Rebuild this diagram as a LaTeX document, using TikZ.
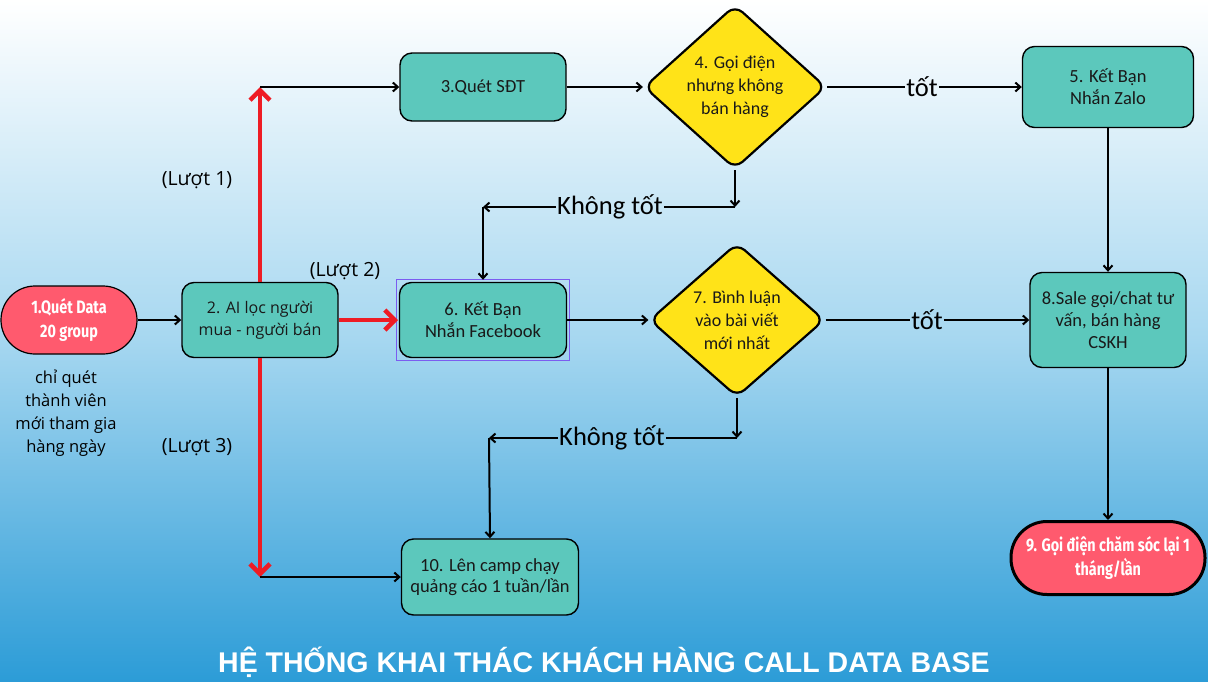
\documentclass[tikz,border=0pt]{standalone}
\usepackage{fontspec}
\setmainfont{Carlito}
\newfontfamily\geofont{Open Sans}
\newfontfamily\condfont[FakeStretch=0.8]{Fira Sans}
\newfontfamily\titlefont{Liberation Sans}
\usetikzlibrary{arrows.meta,shapes.geometric}
\definecolor{tealn}{HTML}{5CC8BC}
\definecolor{yeln}{HTML}{FFE318}
\definecolor{redn}{HTML}{FF5A6E}
\definecolor{reda}{HTML}{EE1C24}
\definecolor{bgmid}{HTML}{A6D7F0}
\definecolor{bgbot}{HTML}{2C9CD7}
\definecolor{selp}{HTML}{7B5CF0}
\tikzset{
  box/.style={draw=black, line width=1.4pt, fill=tealn, rounded corners=12pt, align=center,
    font=\fontsize{18.5}{22}\selectfont, inner sep=2pt, text=black!90},
  dia/.style={diamond, draw=black, line width=2.2pt, fill=yeln, rounded corners=10pt, align=center,
    inner sep=0pt, aspect=1, font=\fontsize{18}{23}\selectfont, text=black!90},
  term/.style={draw=black, fill=redn, align=center, text=white,
    font=\condfont\bfseries\fontsize{18}{24}\selectfont, inner sep=2pt},
  blk/.style={draw=black, line width=2pt, -{Straight Barb[length=5pt,width=9pt]}},
  blkline/.style={draw=black, line width=2pt},
  redarrow/.style={draw=reda, line width=4.5pt, -{Straight Barb[length=10pt,width=20pt]}},
  lbl/.style={font=\fontsize{26.5}{26.5}\selectfont, inner sep=1pt},
  note/.style={font=\geofont\fontsize{19.5}{19.5}\selectfont, align=center},
}
\begin{document}
\begin{tikzpicture}[x=1pt,y=-1pt]
\useasboundingbox (0,0) rectangle (1208,681);
\shade[top color=white, bottom color=bgmid] (0,0) rectangle (1208,340);
\shade[top color=bgmid, bottom color=bgbot] (0,339.5) rectangle (1208,681);

% nodes
\node[term, rounded corners=34pt, minimum width=136pt, minimum height=68pt, line width=1.2pt] (n1) at (69,320) {1.Quét Data\\20 group};
\node[box, minimum width=156pt, minimum height=75pt, font=\geofont\fontsize{16}{22}\selectfont] (n2) at (260,320) {2. AI lọc người\\mua - người bán};
\node[box, minimum width=166pt, minimum height=68pt] (n3) at (483,87) {3.Quét SĐT};
\node[dia, minimum width=182pt, minimum height=164pt] (d4) at (735,87) {4. Gọi điện\\nhưng không\\bán hàng};
\node[box, minimum width=171pt, minimum height=81pt] (n5) at (1108,87) {5. Kết Bạn\\Nhắn Zalo};
\node[box, minimum width=167pt, minimum height=75pt] (n6) at (483,320) {6. Kết Bạn\\Nhắn Facebook};
\draw[selp, line width=1.3pt] ([shift={(-2pt,2pt)}]n6.north west) rectangle ([shift={(2pt,-2pt)}]n6.south east);
\node[dia, minimum width=175pt, minimum height=154pt] (d7) at (737,320) {7. Bình luận\\vào bài viết\\mới nhất};
\node[box, minimum width=156pt, minimum height=95pt, font=\fontsize{18.5}{22}\selectfont] (n8) at (1108,320) {8.Sale gọi/chat tư\\vấn, bán hàng\\CSKH};
\node[term, rounded corners=36pt, minimum width=194pt, minimum height=73pt, line width=3pt] (n9) at (1108,558) {9. Gọi điện chăm sóc lại 1\\tháng/lần};
\node[box, minimum width=177pt, minimum height=76pt, font=\fontsize{18.5}{21}\selectfont] (n10) at (490,577) {10. Lên camp chạy\\quảng cáo 1 tuần/lần};

% notes
\node[note] (l1) at (197,180) {(Lượt 1)};
\node[note] (l2) at (345,271) {(Lượt 2)};
\node[note] (l3) at (197,447) {(Lượt 3)};
\node[note, font=\geofont\fontsize{16.5}{23}\selectfont] (nt) at (66,413) {chỉ quét\\thành viên\\mới tham gia\\hàng ngày};

% red branches
\coordinate (rt) at (260,87);
\coordinate (rb) at (260,577);
\draw[redarrow] (n2.north) -- (rt);
\draw[redarrow] (n2.south) -- (rb);
\draw[redarrow] (n2.east) -- (398,320);
\draw[blk] (rt) -- (n3.west);
\draw[blk] (rb) -- (n10.west);

% main flow
\draw[blk] (n1.east) -- (n2.west);
\draw[blk] (n3.east) -- (d4.west);
\draw[blk] (n6.east) -- (d7.west);
\node[lbl] (t1) at (922,87) {tốt};
\draw[blkline] (d4.east) -- (t1.west);
\draw[blk] (t1.east) -- (n5.west);
\node[lbl] (t2) at (927,320) {tốt};
\draw[blkline] (d7.east) -- (t2.west);
\draw[blk] (t2.east) -- (n8.west);
\draw[blk] (n5.south) -- (n8.north);
\draw[blk] (n8.south) -- (n9.north);

% khong tot 1
\coordinate (a1) at (735,207);
\coordinate (a2) at (483,207);
\node[lbl] (k1) at (610,207) {Không tốt};
\draw[blk] (d4.south) -- (a1);
\draw[blkline] (a1) -- (k1.east);
\draw[blk] (k1.west) -- (a2);
\draw[blk] (a2) -- ([yshift=2pt]n6.north);

% khong tot 2
\coordinate (b1) at (737,438);
\coordinate (b2) at (489,438);
\node[lbl] (k2) at (612,438) {Không tốt};
\draw[blk] (d7.south) -- (b1);
\draw[blkline] (b1) -- (k2.east);
\draw[blk] (k2.west) -- (b2);
\draw[blk] (b2) -- (n10.north);

% title
\node[text=white, font=\titlefont\bfseries\fontsize{28.5}{28.5}\selectfont] (title) at (604,662) {HỆ THỐNG KHAI THÁC KHÁCH HÀNG CALL DATA BASE};
\end{tikzpicture}
\end{document}
